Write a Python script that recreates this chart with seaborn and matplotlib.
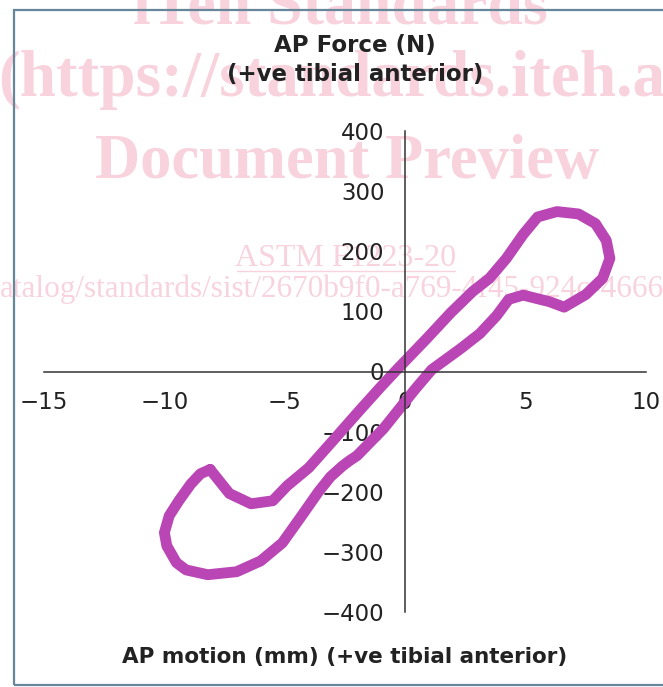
import numpy as np
import pandas as pd
import seaborn as sns
import matplotlib.pyplot as plt
from matplotlib.lines import Line2D
from matplotlib.patches import Rectangle
from matplotlib.ticker import MultipleLocator

sns.set_style('white')
plt.rcParams['font.family'] = ['DejaVu Sans']

# loop (mm, N), in drawing order
ap_motion = [-8.1, -7.7, -7.3, -6.4, -5.5, -4.9, -4.0, -3.0, -1.9, -1.0, -0.3, 0.9,
             1.9, 2.8, 3.5, 4.2, 4.9, 5.5, 6.3, 7.2, 7.9, 8.35, 8.5, 8.2, 7.5, 6.6,
             6.0, 5.4, 4.9, 4.3, 3.8, 3.1, 2.3, 1.1, 0.4, -0.9, -2.0, -2.3, -2.6,
             -3.1, -3.6, -4.3, -5.1, -6.0, -7.0, -8.2, -9.1, -9.5, -9.9, -10.0,
             -9.8, -9.4, -8.9, -8.5, -8.1]
ap_force = [-163, -183, -203, -220, -215, -190, -160, -115, -65, -25, 5, 55,
            98, 133, 155, 188, 228, 257, 266, 262, 246, 218, 188, 155, 128, 107,
            116, 122, 127, 120, 93, 63, 38, 3, -30, -95, -140, -148, -157,
            -175, -200, -240, -285, -315, -333, -338, -330, -318, -290, -268,
            -240, -215, -187, -170, -163]

x_ticks = [-15, -10, -5, 0, 5, 10]
y_ticks = [-400, -300, -200, -100, 0, 100, 200, 300, 400]

title = 'AP Force (N)\n(+ve tibial anterior)'
xlabel = 'AP motion (mm) (+ve tibial anterior)'

df = pd.DataFrame({'motion': ap_motion, 'force': ap_force})

fig = plt.figure(figsize=(6.63, 6.87), dpi=100)

# document watermark behind the chart
wm_col = '#f8d3dd'
wm = dict(family='Liberation Serif', color=wm_col, zorder=-5)
fig.text(340/663, 1 - 24/687, 'iTeh Standards', ha='center', va='baseline',
         fontsize=46, weight='bold', **wm)
fig.text(-2/663, 1 - 96/687, '(https://standards.iteh.ai)', ha='left', va='baseline',
         fontsize=47, weight='bold', **wm)
fig.text(347/663, 1 - 178/687, 'Document Preview', ha='center', va='baseline',
         fontsize=45, weight='bold', **wm)
fig.text(346/663, 1 - 266/687, 'ASTM F1223-20', ha='center', va='baseline',
         fontsize=23, **wm)
fig.add_artist(Line2D([237/663, 455/663], [1 - 271/687, 1 - 271/687],
                      color=wm_col, lw=1, zorder=-5))
fig.text(0, 1 - 297/687, 'atalog/standards/sist/2670b9f0-a769-4f45-924c-4666',
         ha='left', va='baseline', fontsize=22.5, **wm)

ax = fig.add_axes([44/663, 75/687, 602/663, 481/687])
ax.patch.set_alpha(0)

sns.lineplot(data=df, x='motion', y='force', sort=False, estimator=None,
             color='#b946b4', lw=7.8, ax=ax,
             solid_joinstyle='round', solid_capstyle='round')

ax.set_xlim(-15, 10)
ax.set_ylim(-400, 400)
ax.set_xticks(x_ticks)
ax.set_yticks(y_ticks)
ax.set_xticklabels([f'{t:d}'.replace('-', '\u2212') for t in x_ticks])
ax.set_yticklabels([f'{t:d}'.replace('-', '\u2212') for t in y_ticks])
ax.xaxis.set_minor_locator(MultipleLocator(1))
ax.set_xlabel('')
ax.set_ylabel('')

for side in ['top', 'right']:
    ax.spines[side].set_visible(False)
for side in ['left', 'bottom']:
    ax.spines[side].set_position(('data', 0))
    ax.spines[side].set_color('#333333')
    ax.spines[side].set_linewidth(1.1)

ax.tick_params(axis='x', which='major', direction='in', length=6, width=1.1,
               color='#333333', labelsize=16.5, labelcolor='#222222', pad=14)
ax.tick_params(axis='x', which='minor', direction='in', length=4, width=1.1,
               color='#333333')
ax.tick_params(axis='y', which='major', direction='out', length=5, width=1.1,
               color='#333333', labelsize=16.5, labelcolor='#222222', pad=10)

fig.text(355/663, 1 - 60/687, title, ha='center', va='center', fontsize=16.5,
         weight='bold', color='#222222', linespacing=1.38)
fig.text(345/663, 1 - 657/687, xlabel, ha='center', va='center', fontsize=15.5,
         weight='bold', color='#222222')

# outer frame of the figure
fig.add_artist(Rectangle((14/663, 2/687), 660/663, 675/687, transform=fig.transFigure,
                         fill=False, edgecolor='#66879a', lw=1.6))

fig.savefig('out.png', dpi=100)
